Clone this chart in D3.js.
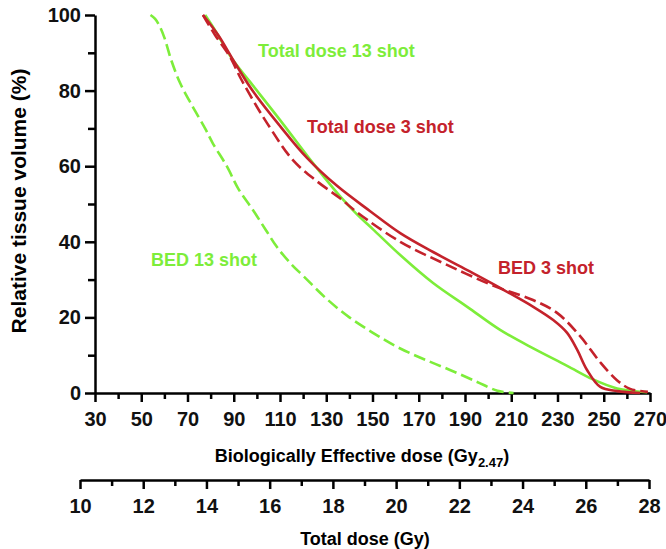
<!DOCTYPE html>
<html>
<head>
<meta charset="utf-8">
<script src="https://cdn.jsdelivr.net/npm/d3@7"></script>
<style>
  body { margin: 0; background: #fff; }
  svg text { font-family: "Liberation Sans", Arial, sans-serif; font-weight: bold; }
  .axis path, .axis line { stroke: #000; stroke-width: 2.5; }
  .axis text { font-size: 20px; fill: #111; }
</style>
</head>
<body>
<div class="chart"></div>
<script>
var svgWidth = 666;
var svgHeight = 549;

var green = "#7ded3a";
var red = "#c4222b";

// BED 13 shot (dashed green), x in Gy2.47
var bed13Dose = [54, 56, 58, 60, 63, 66.8, 72, 77.6, 81, 87, 92, 98.3, 104, 108.7, 115, 120, 130, 140, 150, 160.6, 172, 183.5, 195, 204, 211];
var bed13Vol  = [100, 99, 97, 94, 88, 82, 76, 70, 66, 60, 54, 48.4, 43, 38.6, 34, 31, 25, 20, 16, 12.2, 9, 6.1, 3, 0.6, 0];

// BED 3 shot (dashed red), x in Gy2.47
var bed3Dose = [76.7, 81.9, 88.4, 92.7, 98.3, 104.4, 115.6, 126, 136, 144, 162, 182.2, 203.8, 219.4, 229.8, 239.7, 248.4, 255.7, 261.4, 269.1];
var bed3Vol  = [100, 94.7, 88.9, 83.6, 77.5, 71.4, 61.6, 56, 51.5, 47.5, 40, 33.9, 28, 24.6, 21.2, 15.1, 8.2, 3.4, 1.1, 0.3];

// Total dose 13 shot (solid green), x in Gy
var td13Dose = [13.96, 14.27, 14.81, 15.38, 16.33, 17.37, 18.23, 18.77, 19.27, 20.13, 21.17, 22.25, 23.29, 24.34, 25.41, 26.23, 26.99, 27.94];
var td13Vol  = [100, 96, 88.4, 82.3, 72.2, 60.8, 52, 47.2, 43.3, 36.5, 29.1, 22.8, 16.7, 11.8, 7.2, 3.6, 1.2, 0.2];

// Total dose 3 shot (solid red), x in Gy
var td3Dose = [13.89, 14.37, 14.81, 15.44, 16.33, 17.18, 18.13, 19.18, 20.13, 21.17, 22.25, 23.29, 24.34, 24.97, 25.41, 25.73, 26.04, 26.46, 26.99, 27.72];
var td3Vol  = [100, 94.7, 88.6, 80.2, 70.6, 62.2, 54.8, 48.1, 42.3, 37.3, 32.5, 27.8, 22.8, 19.3, 15.9, 11.4, 6.1, 1.6, 0.5, 0];

var bedTicks = [30, 50, 70, 90, 110, 130, 150, 170, 190, 210, 230, 250, 270];
var bedMinor = [40, 60, 80, 100, 120, 140, 160, 180, 200, 220, 240, 260];
var tdTicks = [10, 12, 14, 16, 18, 20, 22, 24, 26, 28];
var tdMinor = [11, 13, 15, 17, 19, 21, 23, 25, 27];
var volTicks = [0, 20, 40, 60, 80, 100];
var volMinor = [10, 30, 50, 70, 90];

var svg = d3.select(".chart")
  .append("svg")
  .attr("width", svgWidth)
  .attr("height", svgHeight);

// scales
var xBed = d3.scaleLinear().domain([30, 270]).range([95, 650]);
var xTd = d3.scaleLinear().domain([10, 28]).range([80, 649]);
var yVol = d3.scaleLinear().domain([0, 100]).range([393, 15]);

var tdAxisY = 480;

// minor ticks first, then main axes on top
svg.append("g").attr("class", "axis")
  .attr("transform", "translate(95,0)")
  .call(d3.axisLeft(yVol).tickValues(volMinor).tickSize(7).tickFormat("").tickSizeOuter(0))
  .select(".domain").remove();

svg.append("g").attr("class", "axis")
  .attr("transform", "translate(95,0)")
  .call(d3.axisLeft(yVol).tickValues(volTicks).tickSize(10).tickPadding(4).tickSizeOuter(0));

svg.append("g").attr("class", "axis")
  .attr("transform", "translate(0,393)")
  .call(d3.axisBottom(xBed).tickValues(bedMinor).tickSize(6).tickFormat("").tickSizeOuter(0))
  .select(".domain").remove();

svg.append("g").attr("class", "axis")
  .attr("transform", "translate(0,393)")
  .call(d3.axisBottom(xBed).tickValues(bedTicks).tickSize(9).tickPadding(10).tickSizeOuter(0));

svg.append("g").attr("class", "axis")
  .attr("transform", `translate(0,${tdAxisY})`)
  .call(d3.axisBottom(xTd).tickValues(tdMinor).tickSize(6).tickFormat("").tickSizeOuter(0))
  .select(".domain").remove();

svg.append("g").attr("class", "axis")
  .attr("transform", `translate(0,${tdAxisY})`)
  .call(d3.axisBottom(xTd).tickValues(tdTicks).tickSize(9).tickPadding(10).tickSizeOuter(0));

// curves
function addCurve(xs, ys, xScale, color, dashed) {
  var pts = xs.map((d, i) => [d, ys[i]]);
  var line = d3.line()
    .x(d => xScale(d[0]))
    .y(d => yVol(d[1]))
    .curve(d3.curveCatmullRom.alpha(0.5));
  svg.append("path")
    .datum(pts)
    .attr("d", line)
    .attr("fill", "none")
    .attr("stroke", color)
    .attr("stroke-width", 2.6)
    .attr("stroke-dasharray", dashed ? "12,5" : null);
}

addCurve(td13Dose, td13Vol, xTd, green, false);
addCurve(bed13Dose, bed13Vol, xBed, green, true);
addCurve(bed3Dose, bed3Vol, xBed, red, true);
addCurve(td3Dose, td3Vol, xTd, red, false);

// curve labels
var labels = [
  { text: "Total dose 13 shot", x: 258, y: 57, color: green },
  { text: "Total dose 3 shot", x: 307, y: 133, color: red },
  { text: "BED 13 shot", x: 151, y: 266, color: green },
  { text: "BED 3 shot", x: 498, y: 274, color: red }
];
svg.selectAll(".lbl")
  .data(labels)
  .enter()
  .append("text")
  .attr("class", "lbl")
  .attr("x", d => d.x)
  .attr("y", d => d.y)
  .attr("fill", d => d.color)
  .style("font-size", "18px")
  .text(d => d.text);

// axis titles
svg.append("text")
  .attr("transform", "translate(26,201) rotate(-90)")
  .attr("text-anchor", "middle")
  .style("font-size", "21px")
  .text("Relative tissue volume (%)");

var bedTitle = svg.append("text")
  .attr("x", 362)
  .attr("y", 462)
  .attr("text-anchor", "middle")
  .style("font-size", "18px");
bedTitle.append("tspan").text("Biologically Effective dose (Gy");
bedTitle.append("tspan").attr("dy", 5).style("font-size", "13px").text("2.47");
bedTitle.append("tspan").attr("dy", -5).text(")");

svg.append("text")
  .attr("x", 365)
  .attr("y", 545)
  .attr("text-anchor", "middle")
  .style("font-size", "18px")
  .text("Total dose (Gy)");
</script>
</body>
</html>
